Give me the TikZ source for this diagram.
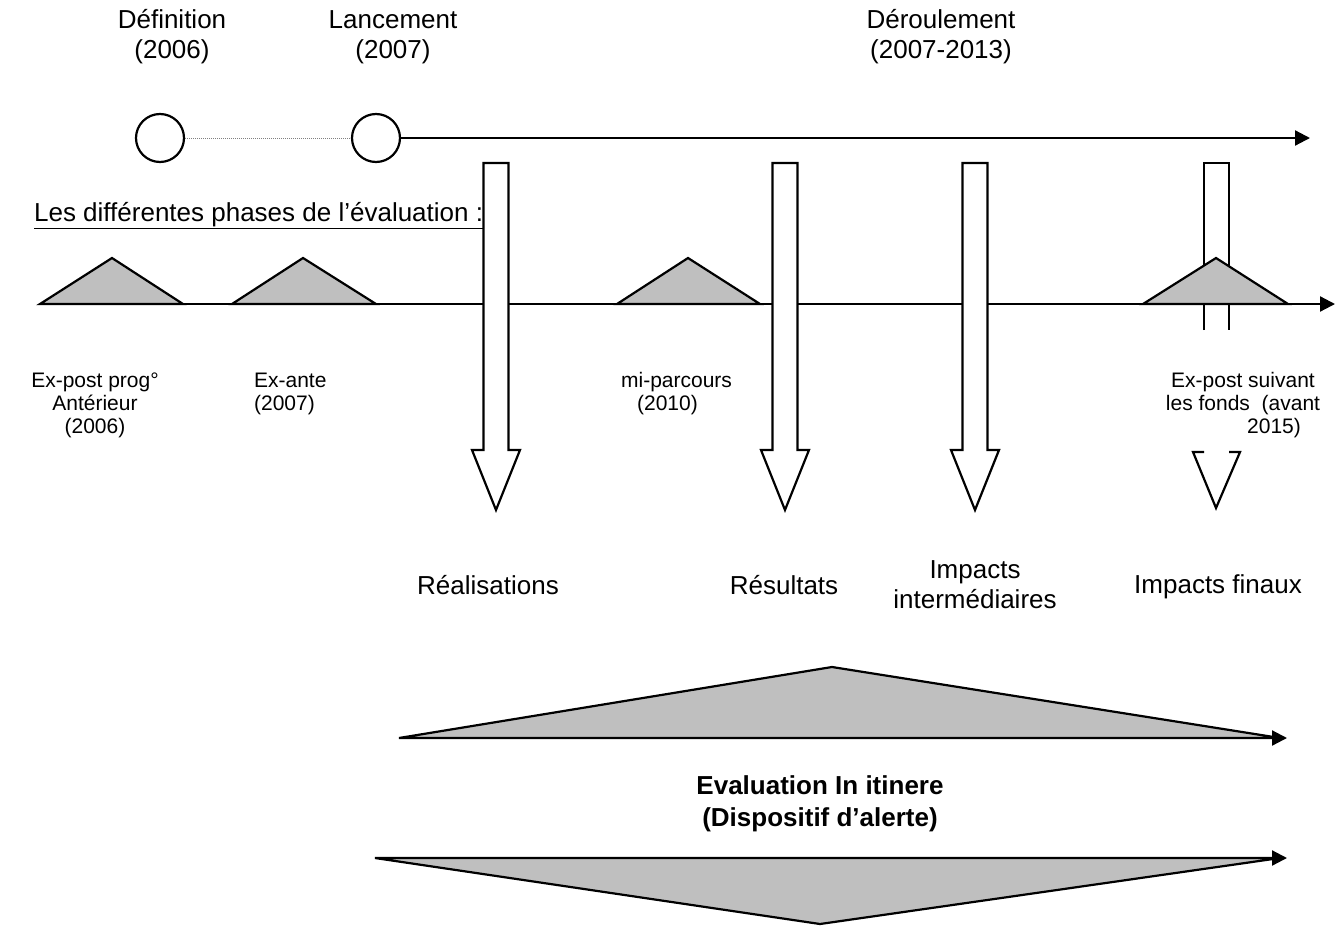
\documentclass[tikz,border=0pt]{standalone}
\usepackage{fontspec}
\setmainfont{Liberation Sans}
\usetikzlibrary{arrows.meta}
\definecolor{trigray}{gray}{0.75}
\begin{document}
\begin{tikzpicture}[x=1pt,y=-1pt,
  line width=2.2pt,
  bigtxt/.style={font=\fontsize{26}{30}\selectfont, align=center, inner sep=0pt},
  smalltxt/.style={font=\fontsize{21}{23}\selectfont, align=center, inner sep=0pt},
  boldtxt/.style={font=\fontsize{26}{32}\selectfont\bfseries, align=center, inner sep=0pt},
  milestone/.style={circle, draw, fill=white, minimum size=48pt, inner sep=0pt},
  phase/.style={draw, fill=trigray, line join=miter},
  blockarrow/.style={draw, fill=white, line join=miter},
  axis/.style={-{Triangle[length=15pt,width=15pt]}},
]
\useasboundingbox (0,0) rectangle (1343,934);

% top timeline
\node[bigtxt] (def) at (172,37) {Définition\\(2006)};
\node[bigtxt] (lan) at (393,37) {Lancement\\(2007)};
\node[bigtxt] (der) at (941,37) {Déroulement\\(2007-2013)};
\node[milestone] (c1) at (160,138) {};
\node[milestone] (c2) at (376,138) {};
\coordinate (t1end) at (1310,138);
\draw[gray, line width=1pt, densely dotted] (c1) -- (c2);
\draw[axis] (c2) -- (t1end);

\node[bigtxt, anchor=west] (phases) at (33,216) {\underline{Les différentes phases de l’évaluation :}};

% second timeline
\coordinate (t2start) at (40,304);
\coordinate (t2end) at (1335,304);
\draw[axis] (t2start) -- (t2end);

\draw[phase] (40,304) -- (112,258) -- (183,304) -- cycle;
\draw[phase] (232,304) -- (303,258) -- (376,304) -- cycle;
\draw[phase] (617,304) -- (688,258) -- (760,304) -- cycle;

% block arrows
\draw[blockarrow] (483.5,163) -- (508.5,163) -- (508.5,450) -- (520,450) -- (496,510) -- (472,450) -- (483.5,450) -- cycle;
\draw[blockarrow] (772.5,163) -- (797.5,163) -- (797.5,450) -- (809,450) -- (785,510) -- (761,450) -- (772.5,450) -- cycle;
\draw[blockarrow] (962.5,163) -- (987.5,163) -- (987.5,450) -- (999,450) -- (975,510) -- (951,450) -- (962.5,450) -- cycle;
\draw[blockarrow] (1204,330) -- (1204,163) -- (1229,163) -- (1229,330);
\draw[phase] (1143,304) -- (1216,258) -- (1288,304) -- cycle;
\draw[line join=miter] (1204,452) -- (1193,452) -- (1216,508) -- (1240,452) -- (1229,452);

% phase labels
\node[smalltxt] (expost) at (95,405) {Ex-post prog°\\Antérieur\\(2006)};
\node[smalltxt, align=left, anchor=west] (exante) at (253,393.5) {Ex-ante\\(2007)};
\node[smalltxt, align=left, anchor=west] (mip) at (620,393.5) {mi-parcours\\\hspace*{16pt}(2010)};
\node[smalltxt] (expf) at (1243,405) {Ex-post suivant\\les fonds\ \ (avant\\\hspace*{62pt}2015)};

% arrow labels
\node[bigtxt] (real) at (488,585) {Réalisations};
\node[bigtxt] (res) at (784,585) {Résultats};
\node[bigtxt] (imi) at (975,585) {Impacts\\intermédiaires};
\node[bigtxt] (imf) at (1218,587) {Impacts finaux};

% in itinere
\coordinate (b1s) at (399,738);
\coordinate (b1e) at (1287,738);
\draw[phase] (399,738) -- (832,667) -- (1280,738) -- cycle;
\draw[axis] (b1s) -- (b1e);
\node[boldtxt] (itin) at (820,804) {Evaluation In itinere\\(Dispositif d’alerte)};
\coordinate (b2s) at (375,858);
\coordinate (b2e) at (1287,858);
\draw[phase] (375,858) -- (820,924) -- (1280,858) -- cycle;
\draw[axis] (b2s) -- (b2e);
\end{tikzpicture}
\end{document}
